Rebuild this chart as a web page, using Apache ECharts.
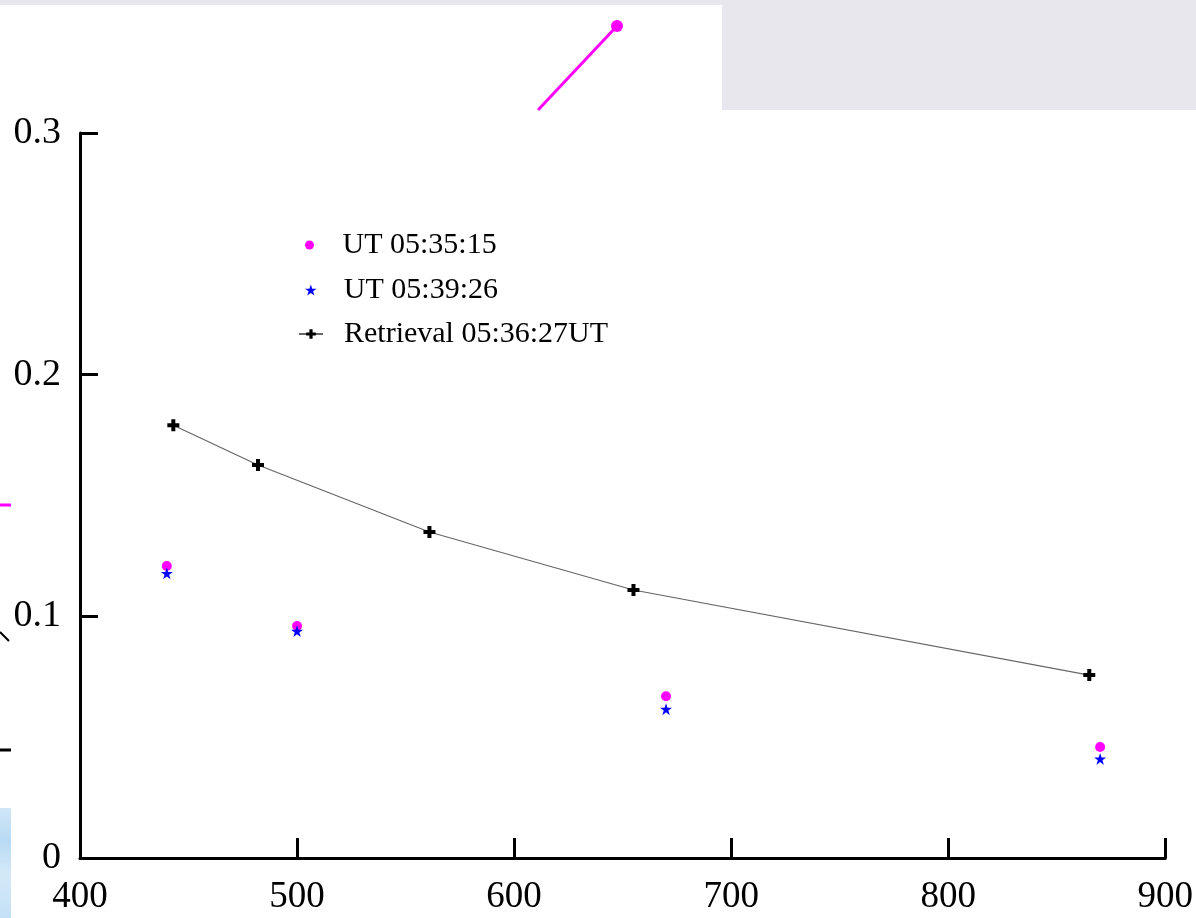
<!DOCTYPE html>
<html>
<head>
<meta charset="utf-8">
<script src="https://cdn.jsdelivr.net/npm/echarts@6/dist/echarts.min.js"></script>
<style>
  html, body { margin: 0; padding: 0; background: #ffffff; }
  #chart { width: 1196px; height: 918px; }
</style>
</head>
<body>
<div id="chart"></div>
<script>
// Wavelengths (nm) and reflectance values
const obsWavelengths = [440, 500, 670, 870];
const ut053515 = [0.1208, 0.0960, 0.0669, 0.0459];
const ut053926 = [0.1178, 0.0939, 0.0616, 0.0410];

const retrievalWavelengths = [443, 482, 561, 655, 865];
const retrieval053627 = [0.1791, 0.1626, 0.1349, 0.1109, 0.0757];

const xTicks = { min: 400, max: 900, step: 100 };
const yTicks = { min: 0, max: 0.3, step: 0.1 };

const seriesNames = ['UT 05:35:15', 'UT 05:39:26', 'Retrieval 05:36:27UT'];

const pair = (xs, ys) => xs.map((x, i) => [x, ys[i]]);

const PLUS = 'path://M4,0H8V4H12V8H8V12H4V8H0V4H4Z';
const STAR = 'path://M50,0L61.8,35.3L99,35.3L68.8,57.1L80.4,92.7L50,70.8L19.6,92.7L31.2,57.1L1,35.3L38.2,35.3Z';

const serif = '"Liberation Serif", "Times New Roman", serif';

const chart = echarts.init(document.getElementById('chart'), null, { renderer: 'canvas' });

const legendBase = {
  orient: 'vertical',
  padding: 0,
  textStyle: { fontFamily: serif, fontSize: 30, color: '#000', padding: [0, 0, 0, 16] },
  itemGap: 0,
  selectedMode: false
};

chart.setOption({
  animation: false,
  backgroundColor: '#ffffff',
  textStyle: { fontFamily: serif },
  grid: { left: 80, right: 30, top: 133, bottom: 60, containLabel: false },
  legend: [
    Object.assign({}, legendBase, {
      left: 305, top: 230, itemWidth: 24, itemHeight: 9,
      data: [{ name: seriesNames[0], icon: 'circle' }]
    }),
    Object.assign({}, legendBase, {
      left: 305, top: 275, itemWidth: 24, itemHeight: 11,
      data: [{ name: seriesNames[1], icon: STAR }]
    }),
    Object.assign({}, legendBase, {
      left: 298, top: 319, itemWidth: 24, itemHeight: 12,
      data: [{ name: seriesNames[2] }]
    })
  ],
  xAxis: {
    type: 'value',
    min: xTicks.min, max: xTicks.max, interval: xTicks.step,
    axisLine: { show: true, lineStyle: { color: '#000', width: 3 } },
    axisTick: { show: true, inside: true, length: 20, lineStyle: { color: '#000', width: 3 } },
    axisLabel: { color: '#000', fontFamily: serif, fontSize: 37, margin: 21 },
    splitLine: { show: false }
  },
  yAxis: {
    type: 'value',
    min: yTicks.min, max: yTicks.max, interval: yTicks.step,
    axisLine: { show: true, lineStyle: { color: '#000', width: 3 } },
    axisTick: { show: true, inside: true, length: 18, lineStyle: { color: '#000', width: 3 } },
    axisLabel: { color: '#000', fontFamily: serif, fontSize: 38, margin: 19 },
    splitLine: { show: false }
  },
  series: [
    {
      name: seriesNames[0],
      type: 'scatter',
      symbol: 'circle',
      symbolSize: 10,
      itemStyle: { color: '#ff00ff', opacity: 1 },
      data: pair(obsWavelengths, ut053515),
      z: 3
    },
    {
      name: seriesNames[1],
      type: 'scatter',
      symbol: STAR,
      symbolSize: 12,
      itemStyle: { color: '#0000ff', opacity: 1 },
      data: pair(obsWavelengths, ut053926),
      z: 3
    },
    {
      name: seriesNames[2],
      type: 'line',
      symbol: PLUS,
      symbolSize: 12,
      showAllSymbol: true,
      lineStyle: { color: '#666666', width: 1.2 },
      itemStyle: { color: '#000000', borderWidth: 0 },
      data: pair(retrievalWavelengths, retrieval053627),
      z: 4
    }
  ],
  graphic: [
    // pale slide bands behind the figure
    { type: 'rect', shape: { x: 0, y: 0, width: 1196, height: 5 }, style: { fill: '#e8e7ed' }, z: -1 },
    { type: 'rect', shape: { x: 722, y: 0, width: 474, height: 110 }, style: { fill: '#e8e7ed' }, z: -1 },
    // magenta pointer line and dot at the top
    { type: 'line', shape: { x1: 538, y1: 110, x2: 617, y2: 26 }, style: { stroke: '#ff00ff', lineWidth: 3 }, z: 10 },
    { type: 'circle', shape: { cx: 617, cy: 26, r: 6 }, style: { fill: '#ff00ff' }, z: 10 },
    // fragments at the left edge
    { type: 'line', shape: { x1: 0, y1: 505, x2: 11, y2: 505 }, style: { stroke: '#ff00ff', lineWidth: 3 }, z: 10 },
    { type: 'line', shape: { x1: 0, y1: 632, x2: 9, y2: 641 }, style: { stroke: '#000', lineWidth: 2 }, z: 10 },
    { type: 'line', shape: { x1: 0, y1: 750, x2: 11, y2: 750 }, style: { stroke: '#000', lineWidth: 3 }, z: 10 },
    {
      type: 'rect', shape: { x: 0, y: 808, width: 11, height: 110 },
      style: {
        fill: new echarts.graphic.LinearGradient(0, 0, 0, 1, [
          { offset: 0, color: '#cfe6f8' },
          { offset: 0.3, color: '#b8daf3' },
          { offset: 0.6, color: '#d4e9f8' },
          { offset: 1, color: '#c3e0f6' }
        ])
      },
      z: 10
    }
  ]
});
</script>
</body>
</html>
